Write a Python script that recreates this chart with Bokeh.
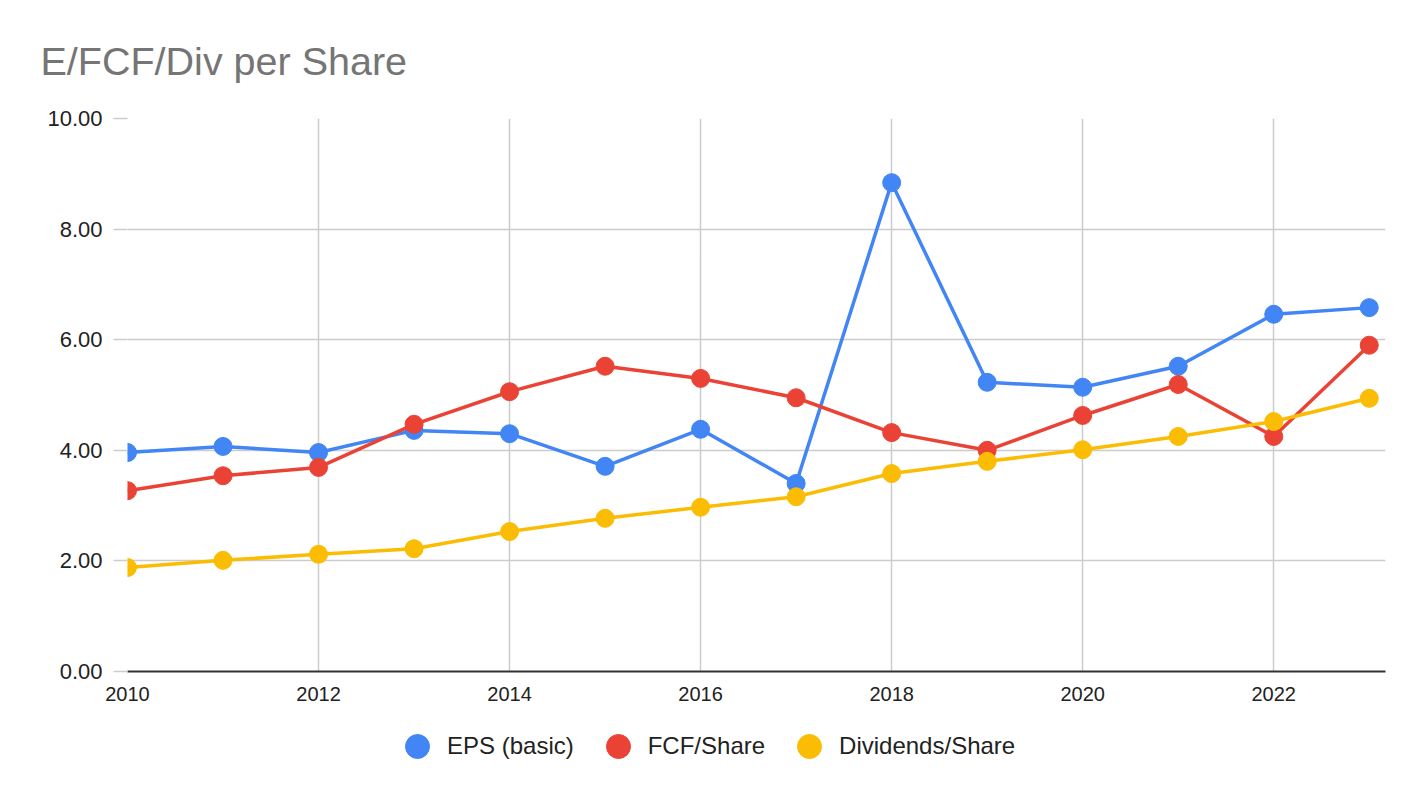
from bokeh.plotting import figure
from bokeh.layouts import column
from bokeh.models import (Range1d, FixedTicker, NumeralTickFormatter, Legend,
                          LegendItem, Title)
from bokeh.embed import file_html
from bokeh.resources import INLINE

years = list(range(2010, 2024))
eps = [3.96, 4.07, 3.96, 4.36, 4.30, 3.71, 4.38, 3.40, 8.84, 5.23, 5.14, 5.52, 6.46, 6.58]
fcf = [3.27, 3.54, 3.69, 4.47, 5.06, 5.52, 5.30, 4.95, 4.32, 4.00, 4.63, 5.19, 4.25, 5.90]
div = [1.88, 2.01, 2.12, 2.22, 2.53, 2.77, 2.97, 3.16, 3.58, 3.80, 4.01, 4.25, 4.52, 4.94]
series_names = ["EPS (basic)", "FCF/Share", "Dividends/Share"]
series_colors = ["#4285F4", "#EA4335", "#FBBC04"]
x_ticks = [2010, 2012, 2014, 2016, 2018, 2020, 2022]
y_ticks = [0, 2, 4, 6, 8, 10]

FONT = "Liberation Sans"

p = figure(width=1424, height=720, output_backend="svg", toolbar_location=None,
           x_range=Range1d(2010, 2023.17), y_range=Range1d(0, 10),
           min_border_left=127, min_border_right=39, min_border_top=118,
           min_border_bottom=49)
p.outline_line_color = None
p.background_fill_color = "white"
p.border_fill_color = "white"

t = Title(text="E/FCF/Div per Share", align="left", offset=-87, standoff=71,
          text_font=FONT, text_font_size="39.5px", text_font_style="normal",
          text_color="#757575")
p.add_layout(t, "above")

for vals, name, col in zip([eps, fcf, div], series_names, series_colors):
    p.line(years, vals, line_color=col, line_width=3.5)
    p.scatter(years, vals, size=18, fill_color=col, line_color=col)

p.xaxis.ticker = FixedTicker(ticks=x_ticks)
p.xaxis.formatter = NumeralTickFormatter(format="0")
p.xaxis.axis_line_color = "#333333"
p.xaxis.axis_line_width = 2
p.xaxis.major_tick_line_color = None
p.xaxis.minor_tick_line_color = None
p.xaxis.major_label_standoff = 9
p.xaxis.major_label_text_font = FONT
p.xaxis.major_label_text_font_size = "20px"
p.xaxis.major_label_text_color = "#222222"

p.yaxis.ticker = FixedTicker(ticks=y_ticks)
p.yaxis.formatter = NumeralTickFormatter(format="0.00")
p.yaxis.axis_line_color = None
p.yaxis.major_tick_line_color = "#cccccc"
p.yaxis.major_tick_line_width = 1.5
p.yaxis.major_tick_out = 14
p.yaxis.major_tick_in = 0
p.yaxis.minor_tick_line_color = None
p.yaxis.major_label_standoff = 11
p.yaxis.major_label_text_font = FONT
p.yaxis.major_label_text_font_size = "22px"
p.yaxis.major_label_text_color = "#222222"

p.xgrid.ticker = FixedTicker(ticks=x_ticks)
p.ygrid.ticker = FixedTicker(ticks=y_ticks)
p.grid.grid_line_color = "#cccccc"
p.grid.grid_line_width = 1.5

# legend strip below the chart (keys reuse the series data, hidden here)
lg = figure(width=1424, height=78, output_backend="svg", toolbar_location=None,
            x_range=Range1d(2010, 2023), y_range=Range1d(0, 10),
            min_border_left=0, min_border_right=0, min_border_top=0,
            min_border_bottom=0)
lg.outline_line_color = None
lg.axis.visible = False
lg.grid.visible = False
items = []
for vals, name, col in zip([eps, fcf, div], series_names, series_colors):
    r = lg.scatter(years, vals, size=18, fill_color=col, line_color=col)
    r.visible = False
    items.append(LegendItem(label=name, renderers=[r]))
legend = Legend(items=items, orientation="horizontal", location=(260, 22),
                glyph_width=60, glyph_height=60, label_standoff=0, spacing=14,
                padding=0, margin=0, border_line_color=None,
                background_fill_alpha=0, inactive_fill_alpha=0,
                label_text_font=FONT, label_text_font_size="24px",
                label_text_color="#222222")
lg.add_layout(legend, "center")

layout = column(p, lg, spacing=0)
open("out.html", "w").write(file_html(layout, INLINE))
